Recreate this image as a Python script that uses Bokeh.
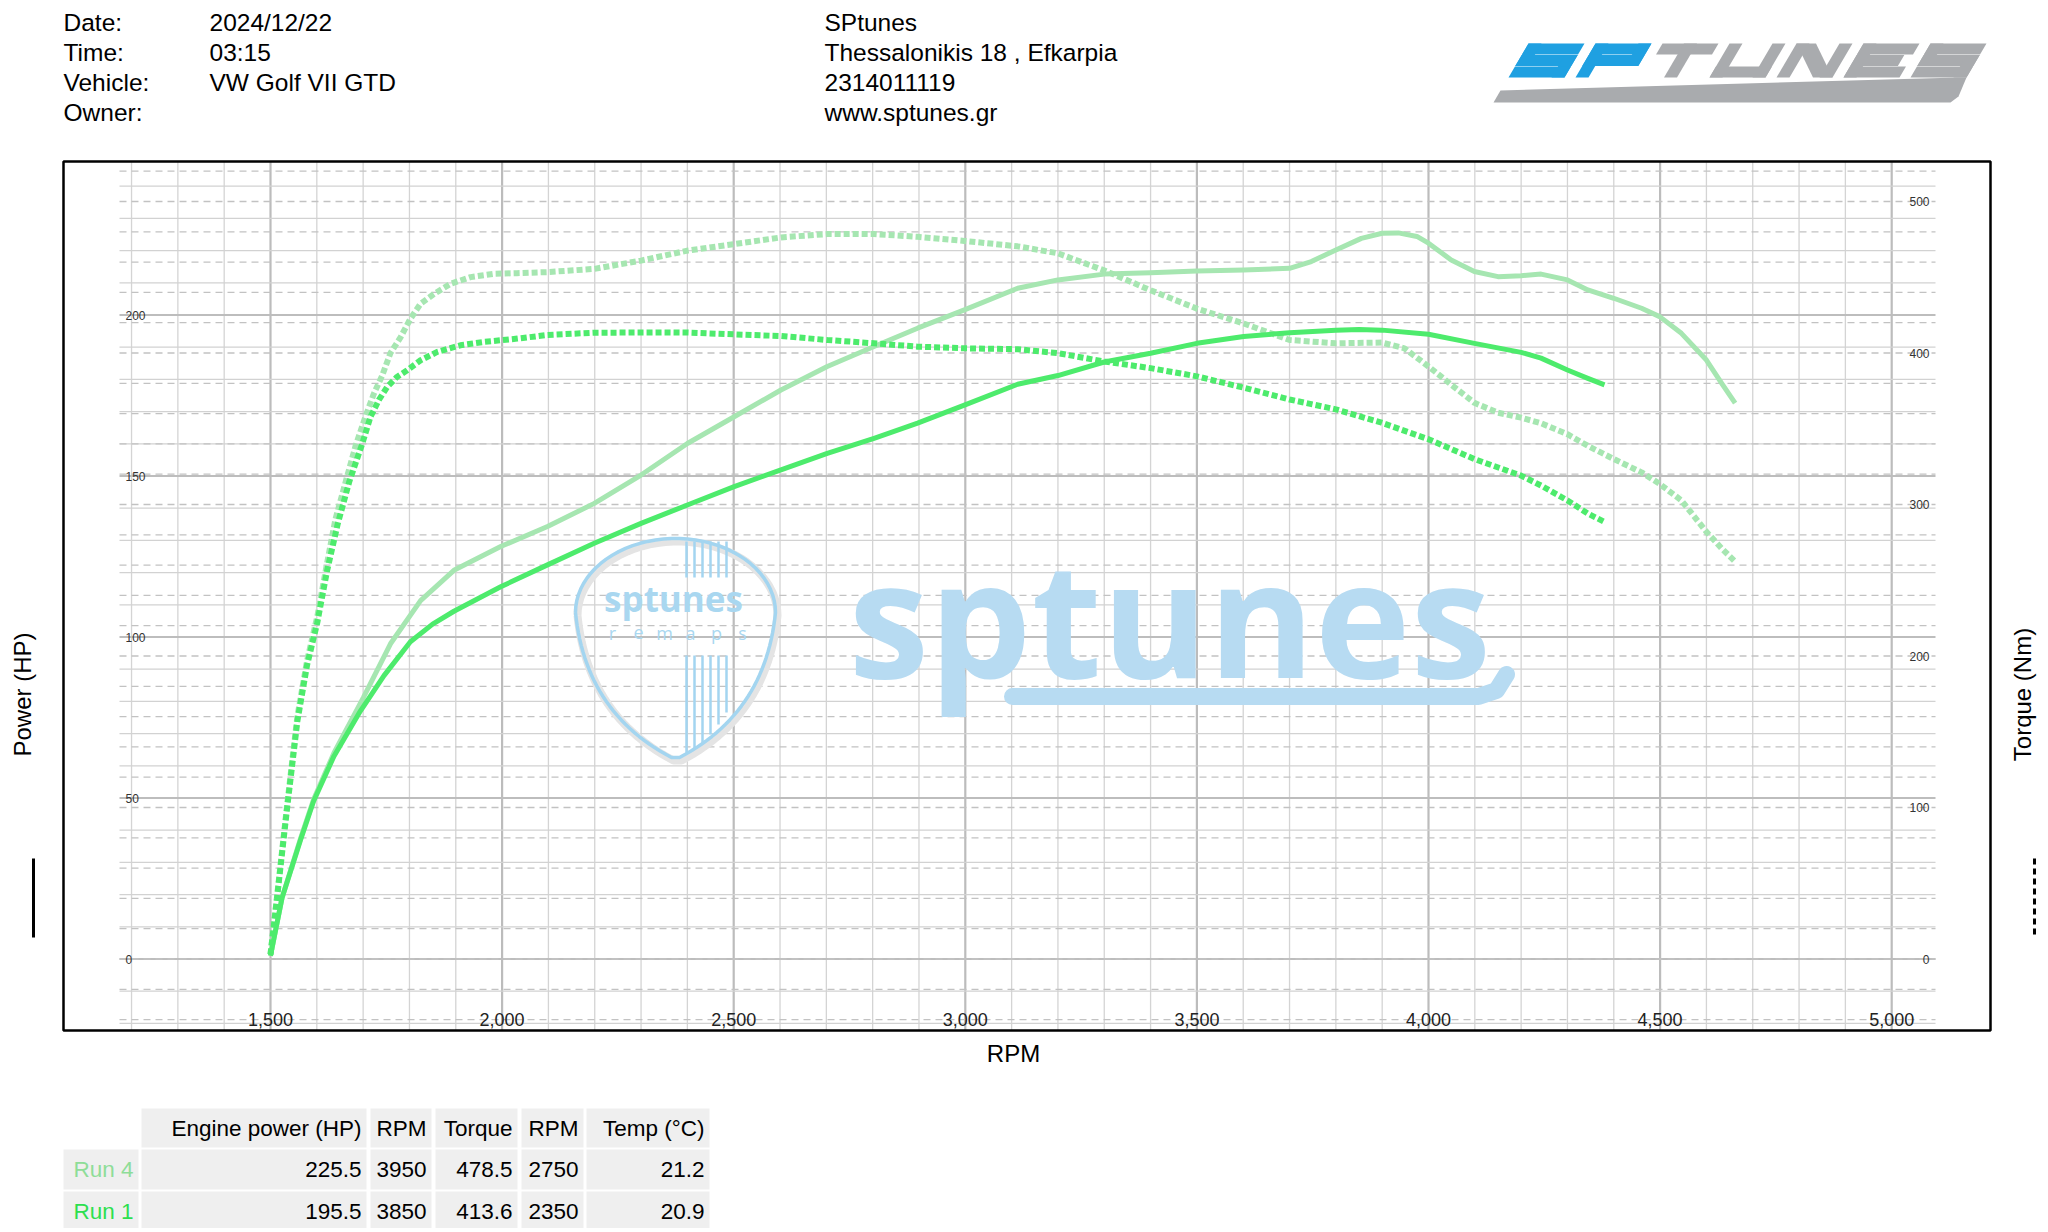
import numpy as np
from bokeh.plotting import figure
from bokeh.models import Range1d
from bokeh.embed import file_html
from bokeh.resources import INLINE
from bokeh.core.properties import value

# ---------------- data ----------------
run4_power_rpm = [1500, 1525, 1565, 1593, 1637, 1701, 1759, 1824, 1896, 1997, 2098, 2199, 2300, 2400,
                  2501, 2602, 2702, 2803, 2897, 2998, 3113, 3200, 3300, 3400, 3500, 3601, 3700, 3747,
                  3800, 3855, 3900, 3935, 3975, 4000, 4049, 4099, 4150, 4200, 4243, 4300, 4344, 4400,
                  4460, 4499, 4546, 4600, 4633, 4662]
run4_power_hp = [1, 19, 37.5, 49.5, 64, 81.3, 97.9, 111.3, 120.7, 128.1, 134.3, 141.5, 150.3, 160.1,
                 168.4, 176.7, 184.0, 190.2, 195.9, 201.6, 208.3, 210.9, 212.7, 213.1, 213.7, 214.0, 214.5, 216.6,
                 220.2, 223.8, 225.4, 225.5, 224.4, 222.3, 217.1, 213.5, 211.9, 212.2, 212.7, 210.9, 207.8, 205.2,
                 202.1, 199.5, 194.3, 186.0, 178.8, 172.6]

run1_power_rpm = [1500, 1525, 1565, 1593, 1637, 1694, 1745, 1802, 1850, 1896, 1997, 2098, 2199, 2300,
                  2400, 2501, 2602, 2702, 2803, 2897, 2998, 3113, 3200, 3300, 3400, 3500, 3601, 3700,
                  3800, 3850, 3900, 4000, 4099, 4200, 4243, 4300, 4344, 4380]
run1_power_hp = [1, 19, 37, 49, 63, 77, 88, 98.5, 104, 108, 115.6, 122.4, 129.1, 135.3,
                 141.0, 146.7, 151.9, 157.0, 161.7, 166.4, 172.0, 178.5, 181.2, 185.4, 188.1, 191.2, 193.3, 194.5,
                 195.3, 195.5, 195.3, 194.0, 191.2, 188.4, 186.6, 182.9, 180.3, 178.3]

run4_torque_rpm = [1500, 1514, 1536, 1558, 1579, 1601, 1622, 1640, 1665, 1684, 1705, 1723, 1741, 1759,
                   1781, 1802, 1824, 1853, 1889, 1932, 1982, 2032, 2098, 2199, 2300, 2400, 2501, 2602,
                   2702, 2803, 2897, 2998, 3113, 3200, 3300, 3400, 3500, 3601, 3700, 3800, 3899, 3948,
                   4000, 4049, 4099, 4150, 4200, 4243, 4300, 4344, 4400, 4460, 4499, 4546, 4600, 4633, 4662]
run4_torque_nm = [3, 41, 102, 160, 197, 226, 261, 290, 318, 339, 358, 373, 385, 400,
                  410.5, 422.6, 432.5, 439, 445.7, 450.1, 452.3, 452.7, 453.4, 455.5, 461, 467.6, 471.9, 476.3,
                  478.5, 478.5, 476.7, 474, 470.4, 465.8, 454.5, 441.4, 429.3, 419.5, 408.6, 406.4, 406.9, 403.1,
                  391.1, 379.1, 367.1, 360.6, 357.3, 353.6, 346.4, 338.7, 330, 321.2, 313.6, 302.7, 282, 271, 262.3]

run1_torque_rpm = [1500, 1514, 1536, 1558, 1579, 1601, 1622, 1645, 1670, 1698, 1716, 1734, 1752, 1773,
                   1795, 1824, 1860, 1910, 1961, 2033, 2098, 2199, 2300, 2350, 2400, 2501, 2602, 2702,
                   2803, 2897, 2998, 3113, 3200, 3300, 3400, 3500, 3601, 3700, 3800, 3899, 4000, 4099,
                   4200, 4243, 4300, 4344, 4380]
run1_torque_nm = [3, 40, 100, 157, 194, 222, 256, 287, 315, 340, 358, 369, 377.6, 384.2,
                  388.6, 395.2, 400.7, 405.1, 407.3, 409.5, 411.9, 413.4, 413.5, 413.6, 413.5, 412.3, 411.2, 408.6,
                  406.4, 404.2, 403.1, 402.5, 399.9, 394.4, 390, 384.6, 377.1, 369.3, 362.8, 354, 343.1, 330,
                  319.1, 312.5, 302.7, 294, 288.5]

rpm_ticks = [1500, 2000, 2500, 3000, 3500, 4000, 4500, 5000]
power_ticks = [0, 50, 100, 150, 200]
torque_ticks = [0, 100, 200, 300, 400, 500]

info_labels = ["Date:", "Time:", "Vehicle:", "Owner:"]
info_values = ["2024/12/22", "03:15", "VW Golf VII GTD", ""]
shop_lines = ["SPtunes", "Thessalonikis 18 , Efkarpia", "2314011119", "www.sptunes.gr"]

table_header = ["Engine power (HP)", "RPM", "Torque", "RPM", "Temp (°C)"]
table_runs = ["Run 4", "Run 1"]
table_rows = [["225.5", "3950", "478.5", "2750", "21.2"],
              ["195.5", "3850", "413.6", "2350", "20.9"]]

RUN4 = "#a6e6b1"
RUN1 = "#4deb6c"
RUN4_TXT = "#8edd98"
RUN1_TXT = "#2ddf4f"
WM = "#b7dbf2"
FONT = value("Liberation Sans")

# ---------------- page geometry (page px) ----------------
W, H = 2040, 1228
OFF = 0
def fx(v):
    return np.asarray(v, dtype=float) - OFF

PX_1500, PX_PER_RPM = 270, 0.4632          # page x of 1500 rpm, px per rpm
PY_ZERO, PX_PER_HP, PX_PER_NM = 958.5, 3.22, 1.515
FRAME_L, FRAME_R, FRAME_T, FRAME_B = 63, 1990, 161, 1030
GRID_L, GRID_R = 119, 1935

def rpm_at(px):
    return 1500 + (px - PX_1500) / PX_PER_RPM
def hp_at(py):
    return (PY_ZERO - py) / PX_PER_HP
def nm_at(py):
    return (PY_ZERO - py) / PX_PER_NM

p = figure(width=W, height=H, x_range=Range1d(0, W), y_range=Range1d(H, 0),
           output_backend="svg", toolbar_location=None, tools="",
           x_axis_location=None, y_axis_location=None, min_border=0)
p.grid.visible = False
p.outline_line_color = None
p.background_fill_color = "white"
p.border_fill_color = "white"

p.extra_x_ranges = {"rpm": Range1d(rpm_at(OFF), rpm_at(OFF + W))}
p.extra_y_ranges = {"hp": Range1d(hp_at(OFF + H), hp_at(OFF)),
                    "nm": Range1d(nm_at(OFF + H), nm_at(OFF))}

# ---------------- grid ----------------
vx = np.arange(1200, 5001, 100)
major = vx % 500 == 0
for sel, col, lw in [(~major, "#d4d4d4", 1.3), (major, "#bcbcbc", 2.2)]:
    p.segment(x0=vx[sel], x1=vx[sel], y0=hp_at(FRAME_B), y1=hp_at(FRAME_T),
              x_range_name="rpm", y_range_name="hp", line_color=col, line_width=lw)

hy = np.arange(-20, 241, 10)
hmajor = hy % 50 == 0
for sel, col, lw in [(~hmajor, "#d2d2d2", 1.3), (hmajor, "#bdbdbd", 2.0)]:
    p.segment(x0=rpm_at(GRID_L), x1=rpm_at(GRID_R), y0=hy[sel], y1=hy[sel],
              x_range_name="rpm", y_range_name="hp", line_color=col, line_width=lw)

ny = np.arange(-40, 521, 20)
p.segment(x0=rpm_at(GRID_L), x1=rpm_at(GRID_R), y0=ny, y1=ny, x_range_name="rpm", y_range_name="nm",
          line_color="#c2c2c2", line_width=1.3, line_dash="7 5")

# frame
p.quad(left=fx(FRAME_L), right=fx(FRAME_R), top=fx(FRAME_T), bottom=fx(FRAME_B),
       fill_color=None, line_color="black", line_width=2.5)

# ---------------- watermark ----------------
# pick-shaped badge
cx, cy = 675, 612
t = np.linspace(np.pi, 0, 40)
top_x, top_y = cx + 100 * np.cos(t), cy - 74 * np.sin(t)
s = np.linspace(0, 1, 30)
rx = (1 - s) ** 2 * (cx + 100) + 2 * (1 - s) * s * (cx + 90) + s ** 2 * (cx + 4)
ry = (1 - s) ** 2 * cy + 2 * (1 - s) * s * (cy + 100) + s ** 2 * (cy + 145)
lx = (1 - s) ** 2 * (cx - 4) + 2 * (1 - s) * s * (cx - 90) + s ** 2 * (cx - 100)
ly = (1 - s) ** 2 * (cy + 145) + 2 * (1 - s) * s * (cy + 100) + s ** 2 * cy
bx = np.concatenate([top_x, rx, lx])
by = np.concatenate([top_y, ry, ly])
p.line(fx(bx + 2), fx(by + 3), line_color="#e4e4e4", line_width=8, line_join="round")
p.line(fx(bx), fx(by), line_color="#a3d5f0", line_width=3.5, line_join="round")
bars_x = np.linspace(686, 726, 6)
p.segment(x0=fx(bars_x), x1=fx(bars_x), y0=fx(541), y1=fx(577), line_color="#a3d5f0", line_width=2.5)
p.segment(x0=fx(bars_x), x1=fx(bars_x), y0=fx(655), y1=fx([752, 748, 742, 734, 724, 712]),
          line_color="#a3d5f0", line_width=2.5)
p.text(x=[fx(673)], y=[fx(598)], text=["sptunes"], text_font=value("Open Sans"), text_font_style="bold",
       text_font_size="35px", text_color="#a9d7f0", text_align="center", text_baseline="middle")
p.text(x=fx(np.linspace(612, 742, 6)), y=fx(np.full(6, 632)), text=list("remaps"),
       text_font=value("Open Sans"), text_font_size="18px", text_color="#a9d7f0",
       text_align="center", text_baseline="middle")

# big "sptunes"
p.text(x=[fx(848)], y=[fx(614)], text=["sptunes"], text_font=value("Open Sans"), text_font_style="bold",
       text_font_size="162px", text_color=WM, text_align="left", text_baseline="alphabetic")
p.line(fx([1012, 1478, 1496, 1506]), fx([696, 696, 690, 674]), line_color=WM, line_width=17,
       line_cap="round", line_join="round")

# ---------------- curves ----------------
p.line(run4_power_rpm, run4_power_hp, x_range_name="rpm", y_range_name="hp",
       line_color=RUN4, line_width=5, line_join="round")
p.line(run4_torque_rpm, run4_torque_nm, x_range_name="rpm", y_range_name="nm",
       line_color=RUN4, line_width=6, line_dash="6 3")
p.line(run1_power_rpm, run1_power_hp, x_range_name="rpm", y_range_name="hp",
       line_color=RUN1, line_width=5, line_join="round")
p.line(run1_torque_rpm, run1_torque_nm, x_range_name="rpm", y_range_name="nm",
       line_color=RUN1, line_width=6, line_dash="6 3")

# ---------------- tick labels ----------------
p.text(x=np.full(len(power_ticks), fx(125)), y=power_ticks, y_range_name="hp",
       text=[str(v) for v in power_ticks], text_font=FONT, text_font_size="12px",
       text_color="#333333", text_align="left", text_baseline="middle")
p.text(x=np.full(len(torque_ticks), fx(1929)), y=torque_ticks, y_range_name="nm",
       text=[str(v) for v in torque_ticks], text_font=FONT, text_font_size="12px",
       text_color="#333333", text_align="right", text_baseline="middle")
p.text(x=rpm_ticks, y=np.full(len(rpm_ticks), fx(1019)), x_range_name="rpm",
       text=[f"{v:,}" for v in rpm_ticks], text_font=FONT, text_font_size="18px",
       text_color="#222222", text_align="center", text_baseline="middle")

# axis titles
p.text(x=[fx(22)], y=[fx(694)], text=["Power (HP)"], angle=np.pi / 2, text_font=FONT,
       text_font_size="24px", text_color="black", text_align="center", text_baseline="middle")
p.text(x=[fx(2022)], y=[fx(694)], text=["Torque (Nm)"], angle=np.pi / 2, text_font=FONT,
       text_font_size="24px", text_color="black", text_align="center", text_baseline="middle")
p.text(x=[fx(1013)], y=[fx(1053)], text=["RPM"], text_font=FONT,
       text_font_size="24px", text_color="black", text_align="center", text_baseline="middle")

# solid / dashed key marks
p.segment(x0=[fx(33)], x1=[fx(33)], y0=[fx(858)], y1=[fx(937)], line_color="black", line_width=3)
p.segment(x0=[fx(2034)], x1=[fx(2034)], y0=[fx(858)], y1=[fx(937)], line_color="black",
          line_width=3, line_dash="6 4")

# ---------------- header ----------------
rows_y = fx([22, 52, 82, 112])
hdr = dict(text_font=FONT, text_font_size="24.5px", text_color="black", text_align="left",
           text_baseline="middle")
p.text(x=np.full(4, fx(63)), y=rows_y, text=info_labels, **hdr)
p.text(x=np.full(4, fx(209)), y=rows_y, text=info_values, **hdr)
p.text(x=np.full(4, fx(824)), y=rows_y, text=shop_lines, **hdr)

# logo: block italic letters
def block_letter(ch, x0, base, w=56, h=34, th=11, tv=13, slant=20):
    half = h / 2
    rects = {
        "S": [(0, h - th, w, h), (0, half - th / 2, tv, h), (0, half - th / 2, w, half + th / 2),
              (w - tv, 0, w, half + th / 2), (0, 0, w, th)],
        "P": [(0, 0, tv, h), (0, h - th, w, h), (w - tv, half - th / 2, w, h),
              (0, half - th / 2, w, half + th / 2)],
        "T": [(0, h - th, w, h), (w / 2 - tv / 2, 0, w / 2 + tv / 2, h)],
        "U": [(0, 0, tv, h), (w - tv, 0, w, h), (0, 0, w, th)],
        "N": [(0, 0, tv, h), (w - tv, 0, w, h)],
        "E": [(0, 0, tv, h), (0, h - th, w, h), (0, half - th / 2, w * 0.85, half + th / 2), (0, 0, w, th)],
    }[ch]
    polys = [[(a, b), (c, b), (c, d), (a, d)] for a, b, c, d in rects]
    if ch == "N":
        polys.append([(0, h), (tv * 1.5, h), (w, 0), (w - tv * 1.5, 0)])
    xs, ys = [], []
    for poly in polys:
        xs.append([fx(x0 + px + slant * py / h) for px, py in poly])
        ys.append([fx(base - py) for px, py in poly])
    return xs, ys

for i, ch in enumerate("SPTUNES"):
    xs, ys = block_letter(ch, 1508 + i * 67, 77)
    p.patches(xs, ys, fill_color="#1fa0e1" if i < 2 else "#a9abae", line_color=None)
# underline swoosh joining the last S
p.patch(fx([1493, 1950, 1958, 1966, 1958, 1500]), fx([102, 102, 96, 77, 77, 90]),
        fill_color="#a9abae", line_color=None)

# ---------------- result table ----------------
col_edges = [(63, 138), (141, 366), (370, 431), (435, 517), (521, 583), (586, 709)]
row_edges = [(1108, 1147), (1149, 1189), (1191, 1230)]
cell_l, cell_r, cell_t, cell_b = [], [], [], []
for ri, (rt, rb) in enumerate(row_edges):
    for ci, (cl, cr) in enumerate(col_edges):
        if ri == 0 and ci == 0:
            continue
        cell_l.append(cl); cell_r.append(cr); cell_t.append(rt); cell_b.append(rb)
p.quad(left=fx(cell_l), right=fx(cell_r), top=fx(cell_t), bottom=fx(cell_b),
       fill_color="#efefef", line_color=None)

tbl = dict(text_font=FONT, text_font_size="22.5px", text_align="right", text_baseline="middle")
row_mid = [(rt + rb) / 2 for rt, rb in row_edges]
right_x = [cr - 5 for cl, cr in col_edges]
p.text(x=fx(right_x[1:]), y=fx(np.full(5, row_mid[0])), text=table_header, text_color="black", **tbl)
for ri, (run, vals, col) in enumerate(zip(table_runs, table_rows, [RUN4_TXT, RUN1_TXT])):
    p.text(x=[fx(right_x[0])], y=[fx(row_mid[ri + 1])], text=[run], text_color=col, **tbl)
    p.text(x=fx(right_x[1:]), y=fx(np.full(5, row_mid[ri + 1])), text=vals, text_color="black", **tbl)

open("out.html", "w").write(file_html(p, INLINE))
